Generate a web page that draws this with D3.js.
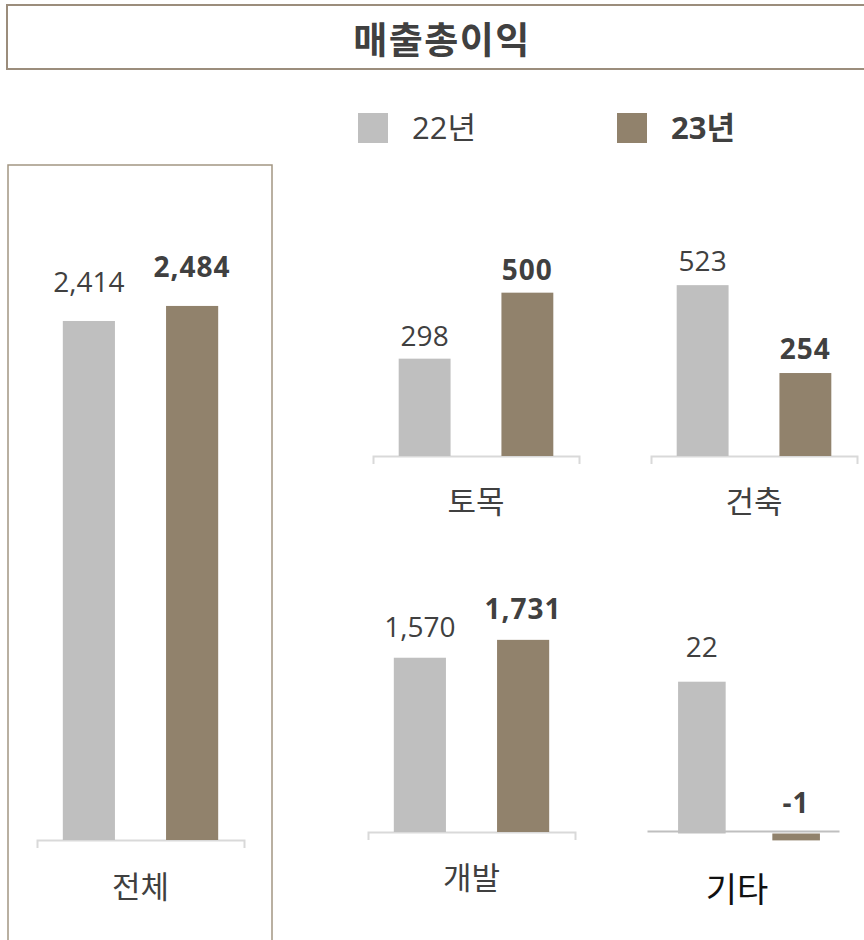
<!DOCTYPE html>
<html>
<head>
<meta charset="utf-8">
<script src="https://cdn.jsdelivr.net/npm/d3@7"></script>
<style>
  body { margin: 0; background: #fff; }
  svg { display: block; font-family: "Open Sans", "Noto Sans CJK KR", sans-serif; }
</style>
</head>
<body>
<div id="chart"></div>
<script>
// data
const title = "매출총이익";
const seriesNames = ["22년", "23년"];
const categories = ["전체", "토목", "건축", "개발", "기타"];
const values22 = [2414, 298, 523, 1570, 22];
const values23 = [2484, 500, 254, 1731, -1];

const colors = ["#bfbfbf", "#91826c"];
const textColor = "#404040";

const W = 864, H = 940;
const svg = d3.select("#chart").append("svg").attr("width", W).attr("height", H);

// title box
svg.append("rect")
  .attr("x", 7).attr("y", 5).attr("width", 900).attr("height", 64)
  .attr("fill", "none").attr("stroke", "#9b8d7c").attr("stroke-width", 2);
svg.append("text")
  .attr("x", 442).attr("y", 54)
  .attr("text-anchor", "middle")
  .style("font-size", "37px").style("font-weight", "bold")
  .style("letter-spacing", "1.5px")
  .style("fill", textColor)
  .text(title);

// legend
const legendX = [358, 617];
seriesNames.forEach(function (s, i) {
  svg.append("rect")
    .attr("x", legendX[i]).attr("y", 113).attr("width", 30).attr("height", 30)
    .attr("fill", colors[i]);
  svg.append("text")
    .attr("x", legendX[i] + 54).attr("y", 139)
    .style("font-size", "31px")
    .style("font-weight", i === 1 ? "bold" : "normal")
    .style("fill", textColor)
    .text(s);
});

// left panel frame (전체)
svg.append("rect")
  .attr("x", 8).attr("y", 165).attr("width", 264).attr("height", 800)
  .attr("fill", "none").attr("stroke", "#a39682").attr("stroke-width", 1.5);

// panel layout: axis range, zero line y, y-domain top/px range
const panels = [
  { x0: 37, x1: 244, base: 840, yMax: 2600, yTop: 281, labelPad: 36, fs: 31, gap: 29, dx: 0 },
  { x0: 373, x1: 579, base: 456, yMax: 600, yTop: 260, labelPad: 35, fs: 31, gap: 13, dx: 0 },
  { x0: 651, x1: 857, base: 456, yMax: 600, yTop: 260, labelPad: 35, fs: 31, gap: 14, dx: 0 },
  { x0: 368, x1: 575, base: 832, yMax: 2000, yTop: 610, labelPad: 35, fs: 31, gap: 21, dx: 0 },
  { x0: 654.5, x1: 843.5, base: 833.5, yMax: 25, yTop: 661, labelPad: 47, fs: 34, gap: 25, dx: -6, zeroLine: [647, 839, 831] }
];

categories.forEach(function (cat, ci) {
  const p = panels[ci];
  const vals = [values22[ci], values23[ci]];
  const g = svg.append("g");

  const x = d3.scaleBand().domain(seriesNames).range([p.x0, p.x1])
    .paddingInner(0.495).paddingOuter(0.25);
  const y = d3.scaleLinear().domain([0, p.yMax]).range([p.base, p.yTop]);

  // category axis (end ticks + label)
  const xc = d3.scaleBand().domain([cat]).range(p.zeroLine ? [p.zeroLine[0], p.zeroLine[1]] : [p.x0, p.x1]);
  const axis = g.append("g")
    .attr("transform", `translate(0,${p.zeroLine ? p.zeroLine[2] : p.base})`)
    .call(d3.axisBottom(xc).tickSizeInner(0).tickSizeOuter(p.zeroLine ? 0 : 8).tickPadding(p.labelPad));
  axis.select(".domain")
    .attr("stroke", p.zeroLine ? "#bfbfbf" : "#d9d9d9")
    .attr("stroke-width", 2);
  axis.selectAll("text")
    .attr("dx", p.dx)
    .style("font-family", "'Noto Sans CJK KR', sans-serif")
    .style("font-size", p.fs + "px")
    .style("fill", p.zeroLine ? "#111" : textColor);

  // bars
  g.selectAll("rect.bar")
    .data(vals)
    .join("rect")
    .attr("class", "bar")
    .attr("x", function (d, i) { return x(seriesNames[i]); })
    .attr("width", x.bandwidth())
    .attr("y", function (d) { return Math.min(y(d), y(0)); })
    .attr("height", function (d) { return Math.abs(y(d) - y(0)); })
    .attr("fill", function (d, i) { return colors[i]; });

  // value labels
  g.selectAll("text.val")
    .data(vals)
    .join("text")
    .attr("class", "val")
    .attr("x", function (d, i) { return x(seriesNames[i]) + x.bandwidth() / 2; })
    .attr("y", function (d) { return d >= 0 ? y(d) - p.gap : y(0) - 21; })
    .attr("text-anchor", "middle")
    .style("font-size", "28px")
    .style("font-weight", function (d, i) { return i === 1 ? "bold" : "normal"; })
    .style("letter-spacing", function (d, i) { return i === 1 ? "1px" : "0px"; })
    .style("fill", textColor)
    .text(function (d) { return d3.format(",")(d).replace("−", "-"); });
});
</script>
</body>
</html>
